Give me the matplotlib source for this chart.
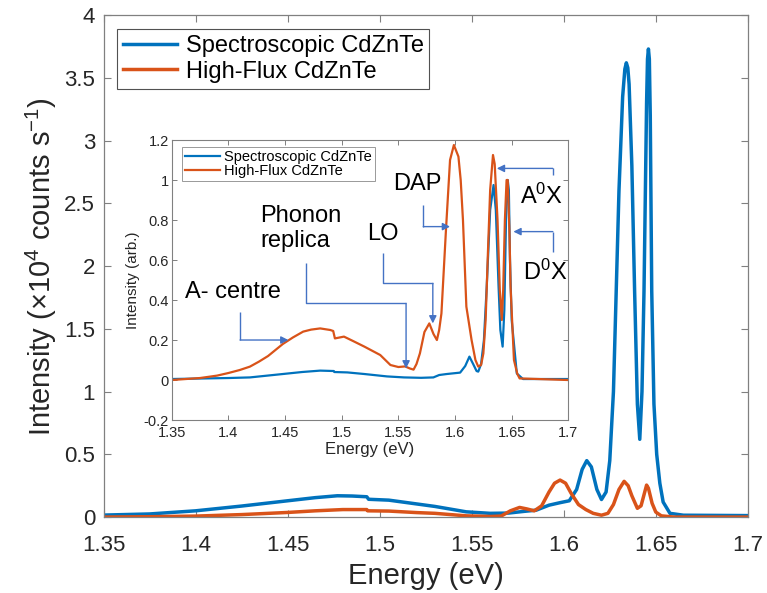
import matplotlib
matplotlib.use("Agg")
import matplotlib.pyplot as plt

plt.rcParams['font.family'] = ['Liberation Sans', 'DejaVu Sans']
plt.rcParams['mathtext.fontset'] = 'custom'
plt.rcParams['mathtext.rm'] = 'Liberation Sans'
plt.rcParams['mathtext.it'] = 'Liberation Sans:italic'
plt.rcParams['mathtext.default'] = 'regular'

# ---- data ----
series_names = ["Spectroscopic CdZnTe", "High-Flux CdZnTe"]

# main panel (x10^4 counts/s)
spec_e = [1.350, 1.375, 1.400, 1.425, 1.450, 1.465, 1.477, 1.485, 1.493, 1.494,
          1.505, 1.520, 1.530, 1.547, 1.560, 1.570, 1.578, 1.585, 1.592, 1.598,
          1.603, 1.607, 1.610, 1.6125, 1.615, 1.618, 1.6205, 1.623, 1.625, 1.627,
          1.6285, 1.630, 1.632, 1.6332, 1.634, 1.6348, 1.6355, 1.637, 1.6385, 1.640,
          1.6413, 1.6425, 1.6436, 1.645, 1.6455, 1.646, 1.6465, 1.647, 1.6478, 1.649,
          1.6505, 1.6522, 1.654, 1.6577, 1.665, 1.700]
spec_i = [0.016, 0.025, 0.050, 0.088, 0.130, 0.155, 0.170, 0.168, 0.162, 0.142,
          0.135, 0.105, 0.085, 0.042, 0.030, 0.032, 0.045, 0.055, 0.095, 0.115,
          0.130, 0.220, 0.380, 0.450, 0.400, 0.220, 0.140, 0.200, 0.450, 1.000,
          1.800, 2.600, 3.350, 3.570, 3.620, 3.580, 3.450, 2.800, 1.800, 0.900,
          0.620, 1.000, 1.800, 3.300, 3.650, 3.730, 3.650, 3.200, 1.800, 0.900,
          0.500, 0.270, 0.120, 0.030, 0.015, 0.012]

flux_e = [1.350, 1.375, 1.400, 1.425, 1.450, 1.465, 1.480, 1.493, 1.4935, 1.505,
          1.520, 1.530, 1.547, 1.560, 1.566, 1.571, 1.576, 1.580, 1.584, 1.588,
          1.592, 1.595, 1.598, 1.601, 1.604, 1.608, 1.612, 1.616, 1.6205, 1.624,
          1.627, 1.630, 1.6328, 1.635, 1.637, 1.640, 1.642, 1.644, 1.645, 1.646,
          1.648, 1.650, 1.653, 1.660, 1.700]
flux_i = [0.000, 0.003, 0.008, 0.020, 0.037, 0.050, 0.060, 0.060, 0.050, 0.048,
          0.036, 0.030, 0.010, 0.005, 0.008, 0.050, 0.077, 0.065, 0.050, 0.090,
          0.200, 0.270, 0.295, 0.270, 0.190, 0.100, 0.060, 0.030, 0.015, 0.030,
          0.100, 0.220, 0.285, 0.250, 0.170, 0.070, 0.090, 0.200, 0.255, 0.230,
          0.110, 0.040, 0.010, 0.000, 0.000]

# inset (normalised, arb.)
spec_n_e = [1.350, 1.400, 1.419, 1.448, 1.465, 1.481, 1.493, 1.4935, 1.505, 1.520,
            1.540, 1.555, 1.570, 1.5809, 1.586, 1.5927, 1.6045, 1.609, 1.6127, 1.616,
            1.619, 1.6205, 1.623, 1.6255, 1.628, 1.631, 1.634, 1.636, 1.6384, 1.640,
            1.642, 1.6435, 1.645, 1.6465, 1.6475, 1.6485, 1.650, 1.6545, 1.660, 1.700]
spec_n_i = [0.005, 0.010, 0.013, 0.030, 0.040, 0.047, 0.045, 0.040, 0.038, 0.030,
            0.018, 0.013, 0.011, 0.013, 0.025, 0.030, 0.037, 0.070, 0.117, 0.080,
            0.045, 0.042, 0.080, 0.200, 0.470, 0.850, 0.975, 0.850, 0.470, 0.250,
            0.167, 0.350, 0.800, 1.000, 0.950, 0.600, 0.300, 0.033, 0.005, 0.005]

flux_n_e = [1.350, 1.375, 1.390, 1.400, 1.410, 1.419, 1.427, 1.435, 1.448, 1.457,
            1.466, 1.473, 1.481, 1.490, 1.4925, 1.494, 1.502, 1.510, 1.520, 1.534,
            1.543, 1.550, 1.556, 1.560, 1.5634, 1.566, 1.569, 1.573, 1.5773, 1.581,
            1.584, 1.586, 1.588, 1.592, 1.5956, 1.599, 1.603, 1.605, 1.607, 1.610,
            1.6146, 1.618, 1.6205, 1.623, 1.625, 1.627, 1.629, 1.631, 1.6335, 1.635,
            1.6375, 1.6395, 1.6413, 1.6425, 1.644, 1.6455, 1.6465, 1.648, 1.649, 1.652,
            1.655, 1.657, 1.700]
flux_n_i = [0.000, 0.010, 0.022, 0.035, 0.050, 0.067, 0.092, 0.120, 0.180, 0.213,
            0.242, 0.252, 0.258, 0.250, 0.245, 0.208, 0.217, 0.195, 0.167, 0.125,
            0.075, 0.065, 0.068, 0.058, 0.052, 0.080, 0.133, 0.240, 0.283, 0.230,
            0.200, 0.250, 0.333, 0.750, 1.100, 1.175, 1.117, 1.000, 0.800, 0.367,
            0.200, 0.100, 0.067, 0.075, 0.133, 0.300, 0.633, 0.950, 1.125, 1.080,
            0.800, 0.450, 0.300, 0.450, 0.800, 1.000, 1.000, 0.750, 0.467, 0.100,
            0.030, 0.008, 0.000]

x_ticks = [1.35, 1.4, 1.45, 1.5, 1.55, 1.6, 1.65, 1.7]
x_labels = ["1.35", "1.4", "1.45", "1.5", "1.55", "1.6", "1.65", "1.7"]
main_y_ticks = [0, 0.5, 1, 1.5, 2, 2.5, 3, 3.5, 4]
main_y_labels = ["0", "0.5", "1", "1.5", "2", "2.5", "3", "3.5", "4"]
inset_y_ticks = [-0.2, 0, 0.2, 0.4, 0.6, 0.8, 1, 1.2]
inset_y_labels = ["-0.2", "0", "0.2", "0.4", "0.6", "0.8", "1", "1.2"]

blue = "#0072BD"
orange = "#D95319"
arrow_c = "#4472C4"
text_c = "#262626"
axis_c = "#808080"

fig = plt.figure(figsize=(7.67, 5.93), dpi=100)

# ---- main axes ----
ax = fig.add_axes([0.135, 0.128, 0.840, 0.8465])
ax.plot(spec_e, spec_i, color=blue, lw=2.5, label=series_names[0])
ax.plot(flux_e, flux_i, color=orange, lw=2.5, label=series_names[1])
ax.set_xlim(1.35, 1.7)
ax.set_ylim(0, 4)
ax.set_xticks(x_ticks, x_labels)
ax.set_yticks(main_y_ticks, main_y_labels)
ax.tick_params(direction="in", top=True, right=True, length=5, width=0.8,
               color=axis_c, labelcolor=text_c, labelsize=16)
ax.tick_params(axis="x", pad=13)
ax.tick_params(axis="y", pad=6)
for s in ax.spines.values():
    s.set_color(axis_c)
    s.set_linewidth(0.9)
ax.set_xlabel("Energy (eV)", fontsize=21, color=text_c, labelpad=4)
ax.set_ylabel("Intensity (×10$^4$ counts s$^{-1}$)", fontsize=21, color=text_c, labelpad=4)
leg = ax.legend(loc="upper left", bbox_to_anchor=(0.021, 0.972), borderaxespad=0,
                fontsize=17, frameon=True, fancybox=False, handlelength=2.3,
                handletextpad=0.35, labelspacing=0.15, borderpad=0.25)
leg.get_frame().set_edgecolor(text_c)
leg.get_frame().set_linewidth(0.8)

# ---- inset ----
ax2 = fig.add_axes([0.2239, 0.2917, 0.5171, 0.4722])
ax2.plot(spec_n_e, spec_n_i, color=blue, lw=1.6, label=series_names[0])
ax2.plot(flux_n_e, flux_n_i, color=orange, lw=1.6, label=series_names[1])
ax2.set_xlim(1.35, 1.7)
ax2.set_ylim(-0.2, 1.2)
ax2.set_xticks(x_ticks, x_labels)
ax2.set_yticks(inset_y_ticks, inset_y_labels)
ax2.tick_params(direction="in", top=True, right=True, length=3.5, width=0.7,
                color=axis_c, labelcolor=text_c, labelsize=10.5)
ax2.tick_params(axis="x", pad=4.5)
ax2.tick_params(axis="y", pad=2)
for s in ax2.spines.values():
    s.set_color(axis_c)
    s.set_linewidth(0.8)
ax2.set_xlabel("Energy (eV)", fontsize=12, color=text_c, labelpad=1)
ax2.set_ylabel("Intensity (arb.)", fontsize=11, color=text_c, labelpad=3)
leg2 = ax2.legend(loc="upper left", bbox_to_anchor=(0.025, 0.976), borderaxespad=0,
                  fontsize=10.5, frameon=True, fancybox=False, handlelength=2.4,
                  handletextpad=0.3, labelspacing=0.05, borderpad=0.2)
leg2.get_frame().set_edgecolor(axis_c)
leg2.get_frame().set_linewidth(0.7)

# ---- annotations ----
def elbow(points):
    xs = [p[0] for p in points[:-1]]
    ys = [p[1] for p in points[:-1]]
    ax2.plot(xs, ys, color=arrow_c, lw=1.0, solid_capstyle="butt")
    ax2.annotate("", xy=points[-1], xytext=points[-2],
                 arrowprops=dict(arrowstyle="-|>", color=arrow_c, lw=1.0,
                                 mutation_scale=11, shrinkA=0, shrinkB=0))

fs = 17
ax2.text(1.3617, 0.44, "A- centre", fontsize=fs, ha="left", va="center", color="black")
elbow([(1.4103, 0.34), (1.4103, 0.20), (1.453, 0.20)])

ax2.text(1.4279, 0.758, "Phonon\nreplica", fontsize=fs, ha="left", va="center",
         color="black", linespacing=1.15)
elbow([(1.4685, 0.583), (1.4685, 0.383), (1.5568, 0.383), (1.5568, 0.058)])

ax2.text(1.5359, 0.73, "LO", fontsize=fs, ha="center", va="center", color="black")
elbow([(1.5362, 0.633), (1.5362, 0.483), (1.5804, 0.483), (1.5804, 0.283)])

ax2.text(1.5668, 0.98, "DAP", fontsize=fs, ha="center", va="center", color="black")
elbow([(1.572, 0.875), (1.572, 0.767), (1.5956, 0.767)])

ax2.text(1.6574, 0.92, "A$^0$X", fontsize=fs, ha="left", va="center", color="black")
elbow([(1.6863, 1.025), (1.6863, 1.058), (1.6369, 1.058)])

ax2.text(1.6598, 0.538, "D$^0$X", fontsize=fs, ha="left", va="center", color="black")
elbow([(1.6863, 0.642), (1.6863, 0.742), (1.6515, 0.742)])

fig.savefig("out.png", dpi=100)
